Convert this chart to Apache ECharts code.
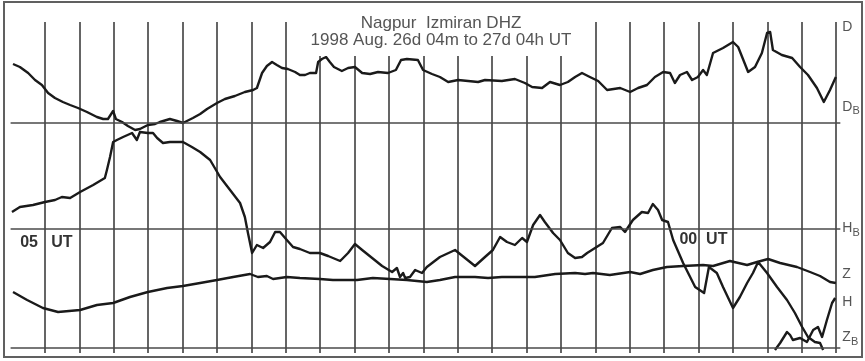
<!DOCTYPE html>
<html>
<head>
<meta charset="utf-8">
<title>Nagpur Izmiran DHZ</title>
<script src="https://cdn.jsdelivr.net/npm/echarts@6/dist/echarts.min.js"></script>
<style>
  html, body { margin: 0; padding: 0; background: #fff; }
  #chart { width: 865px; height: 361px; }
</style>
</head>
<body>
<div id="chart"></div>
<script>
// Magnetogram traces: [hour UT (26 Aug, >24 = 27 Aug), trace deflection]
const dTrace = [
  [4.07, 289], [4.27, 286], [4.51, 280], [4.71, 273], [4.91, 268], [5.09, 260], [5.29, 255],
  [5.52, 251], [5.73, 248], [5.96, 245], [6.22, 241], [6.51, 236], [6.69, 234], [6.83, 234],
  [6.98, 242], [7.06, 234], [7.24, 231], [7.41, 227], [7.62, 223], [7.76, 224], [7.99, 228],
  [8.20, 229], [8.34, 231], [8.63, 234], [8.84, 232], [9.01, 230], [9.30, 235], [9.51, 239],
  [9.71, 244], [10.00, 250], [10.23, 254], [10.52, 257], [10.81, 261], [11.05, 263], [11.16, 265],
  [11.31, 280], [11.45, 287], [11.60, 291], [11.74, 288], [11.89, 285], [12.06, 284], [12.27, 281],
  [12.41, 278], [12.56, 278], [12.70, 280], [12.88, 280], [12.94, 291], [13.05, 294], [13.17, 296],
  [13.28, 291], [13.40, 286], [13.63, 282], [13.81, 285], [14.01, 286], [14.22, 280], [14.45, 279],
  [14.68, 281], [14.97, 280], [15.20, 283], [15.35, 293], [15.52, 294], [15.84, 293], [15.99, 283],
  [16.25, 279], [16.48, 276], [16.72, 271], [17.01, 273], [17.30, 272], [17.59, 271], [17.79, 273],
  [18.28, 272], [18.66, 274], [18.95, 270], [19.16, 266], [19.45, 265], [19.68, 271], [19.97, 268],
  [20.20, 271], [20.41, 276], [20.61, 280], [20.84, 276], [21.08, 272], [21.34, 263], [21.72, 265],
  [22.01, 261], [22.24, 265], [22.50, 268], [22.73, 276], [22.97, 281], [23.17, 280], [23.31, 270],
  [23.46, 278], [23.66, 281], [23.81, 273], [23.98, 276], [24.13, 283], [24.24, 278], [24.42, 300],
  [24.71, 305], [25.00, 311], [25.15, 306], [25.44, 281], [25.64, 286], [25.84, 300], [25.99, 320],
  [26.08, 321], [26.16, 303], [26.42, 298], [26.72, 295], [26.95, 286], [27.18, 278], [27.44, 265],
  [27.64, 251], [27.82, 263], [27.99, 276]
];

const hTrace = [
  [4.04, 141], [4.27, 146], [4.65, 148], [5.00, 151], [5.29, 153], [5.49, 156], [5.73, 155],
  [6.02, 161], [6.40, 168], [6.74, 175], [6.80, 183], [6.89, 196], [6.98, 211], [7.09, 213],
  [7.27, 216], [7.53, 220], [7.67, 213], [7.76, 221], [7.99, 220], [8.14, 220], [8.26, 215],
  [8.43, 210], [8.63, 211], [9.01, 211], [9.27, 206], [9.51, 201], [9.80, 193], [10.09, 176],
  [10.38, 163], [10.67, 150], [10.81, 136], [10.90, 120], [11.02, 100], [11.16, 108], [11.34, 105],
  [11.54, 111], [11.69, 121], [11.83, 121], [12.03, 113], [12.21, 106], [12.41, 104], [12.70, 100],
  [12.99, 100], [13.23, 97], [13.58, 92], [13.81, 100], [14.01, 109], [14.22, 103], [14.51, 95],
  [14.80, 87], [15.09, 81], [15.23, 85], [15.32, 76], [15.41, 80], [15.47, 75], [15.61, 76],
  [15.76, 83], [15.96, 80], [16.10, 86], [16.48, 96], [16.92, 103], [17.21, 95], [17.50, 87],
  [17.79, 96], [18.02, 103], [18.23, 116], [18.43, 111], [18.66, 108], [18.87, 115], [19.01, 111],
  [19.19, 128], [19.39, 138], [19.53, 131], [19.77, 120], [19.97, 113], [20.20, 100], [20.41, 95],
  [20.61, 96], [20.76, 100], [20.99, 105], [21.22, 110], [21.48, 125], [21.72, 126], [21.86, 121],
  [22.09, 133], [22.35, 141], [22.53, 140], [22.67, 149], [22.82, 143], [22.94, 133], [23.11, 131],
  [23.26, 113], [23.55, 90], [23.90, 66], [24.16, 60], [24.30, 86], [24.53, 80], [24.71, 66],
  [25.00, 45], [25.20, 56], [25.41, 70], [25.58, 80], [25.73, 91], [25.99, 80], [26.28, 66],
  [26.57, 53], [26.80, 40], [27.01, 26], [27.18, 16], [27.38, 11], [27.53, 10], [27.62, 3]
];

// H trace after it re-enters from the bottom edge
const hTraceReentry = [
  [26.22, 3], [26.37, 10], [26.57, 21], [26.66, 18], [26.74, 13], [26.95, 15], [27.15, 11],
  [27.33, 23], [27.47, 26], [27.59, 16], [27.73, 33], [27.88, 50], [27.97, 55]
];

const zTrace = [
  [4.07, 61], [4.48, 53], [4.94, 45], [5.38, 41], [6.02, 43], [6.51, 48], [6.98, 50],
  [7.47, 56], [7.99, 61], [8.55, 65], [9.01, 67], [9.51, 70], [10.00, 73], [10.47, 76],
  [10.96, 79], [11.19, 76], [11.45, 77], [11.63, 74], [12.03, 76], [12.41, 75], [12.99, 74],
  [13.37, 73], [14.07, 73], [14.53, 75], [15.03, 74], [15.52, 73], [16.10, 71], [16.48, 73],
  [16.92, 76], [17.50, 76], [17.88, 75], [18.28, 76], [18.87, 76], [19.24, 76], [19.83, 79],
  [20.41, 80], [20.70, 79], [20.93, 80], [21.42, 78], [22.01, 81], [22.30, 79], [22.67, 83],
  [23.08, 86], [23.55, 87], [24.13, 88], [24.42, 87], [24.91, 92], [25.41, 88], [25.70, 91],
  [26.02, 94], [26.37, 90], [26.86, 86], [27.24, 81], [27.53, 77], [27.82, 71], [27.99, 70]
];

// Baselines D_B, H_B, Z_B
const baseValues = [230, 124, 5];
const baseLetters = ['D', 'H', 'Z'];
const baseLabelLevels = [244.8, 123.5, 14];

// Trace name labels at the right edge
const traceLetters = ['D', 'Z', 'H'];
const traceLabelLevels = [326.3, 79, 50.5];

// Hour marks written on the chart: [text, hour, level]
const timeMarks = [['05   UT', 5.04, 110.5], ['00  UT', 24.14, 113]];

const X_MIN = 4, X_MAX = 28.12, Y_MAX = 331;
const INK = '#1a1a1a', RULE = '#4a4a4a', LABEL = '#555';
const FONT = 'Liberation Sans, Arial, sans-serif';

const hidden = { color: 'transparent' };

const sideLabels = traceLetters.map((t, i) => ({
  coord: [X_MAX, traceLabelLevels[i]],
  label: { formatter: t, fontSize: 14 }
})).concat(baseLetters.map((t, i) => ({
  coord: [X_MAX, baseLabelLevels[i]],
  label: { formatter: '{m|' + t + '}{s|B}' }
})));

const chart = echarts.init(document.getElementById('chart'), null, { renderer: 'canvas' });

const traceSeries = (name, data) => ({
  name, type: 'line', data,
  showSymbol: false, symbol: 'none', silent: true,
  lineStyle: { color: INK, width: 2.4, join: 'round' },
  z: 3
});

chart.setOption({
  animation: false,
  backgroundColor: '#fff',
  title: {
    text: 'Nagpur  Izmiran DHZ\n1998 Aug. 26d 04m to 27d 04h UT',
    left: 433, top: 8, textAlign: 'center',
    padding: [7, 8, 7, 8],
    backgroundColor: '#fff',
    textStyle: { fontFamily: FONT, fontSize: 17, lineHeight: 17, fontWeight: 'normal', color: '#555' }
  },
  grid: { left: 10.6, right: 24.67, top: 22, bottom: 8, containLabel: false },
  xAxis: {
    type: 'value', min: X_MIN, max: X_MAX, interval: 1,
    axisLine: { show: false }, axisTick: { show: false }, axisLabel: { show: false },
    splitLine: { show: true, showMinLine: false, showMaxLine: false, lineStyle: { color: RULE, width: 1.7 } }
  },
  yAxis: {
    type: 'value', min: 0, max: Y_MAX,
    axisLine: { show: false }, axisTick: { show: false }, axisLabel: { show: false },
    splitLine: { show: false }
  },
  graphic: [{
    type: 'rect', silent: true, z: 100,
    shape: { x: 4, y: 2, width: 858, height: 355 },
    style: { fill: 'none', stroke: '#606060', lineWidth: 2 }
  }],
  series: [
    Object.assign(traceSeries('D', dTrace), {
      markLine: {
        silent: true, symbol: ['none', 'none'], label: { show: false },
        lineStyle: { type: 'solid', color: RULE, width: 1.7 },
        data: baseValues.map(v => ({ yAxis: v }))
      },
      markPoint: {
        silent: true, symbol: 'circle', symbolSize: 1, itemStyle: hidden,
        label: {
          show: true, position: 'inside', align: 'left', verticalAlign: 'middle',
          offset: [2, 0], color: LABEL, fontFamily: FONT,
          rich: {
            m: { fontSize: 14, color: LABEL, fontFamily: FONT, verticalAlign: 'bottom', padding: [0, 0, 3, 0] },
            s: { fontSize: 11, color: LABEL, fontFamily: FONT, verticalAlign: 'bottom' }
          }
        },
        data: sideLabels
      }
    }),
    Object.assign(traceSeries('H', hTrace), {
      markPoint: {
        silent: true, symbol: 'circle', symbolSize: 1, itemStyle: hidden,
        label: {
          show: true, position: 'inside', align: 'center', verticalAlign: 'middle',
          color: '#333', fontFamily: FONT, fontSize: 16, fontWeight: 'bold'
        },
        data: timeMarks.map(([t, h, v]) => ({ coord: [h, v], label: { formatter: t } }))
      }
    }),
    traceSeries('H re-entry', hTraceReentry),
    traceSeries('Z', zTrace)
  ]
});
</script>
</body>
</html>
